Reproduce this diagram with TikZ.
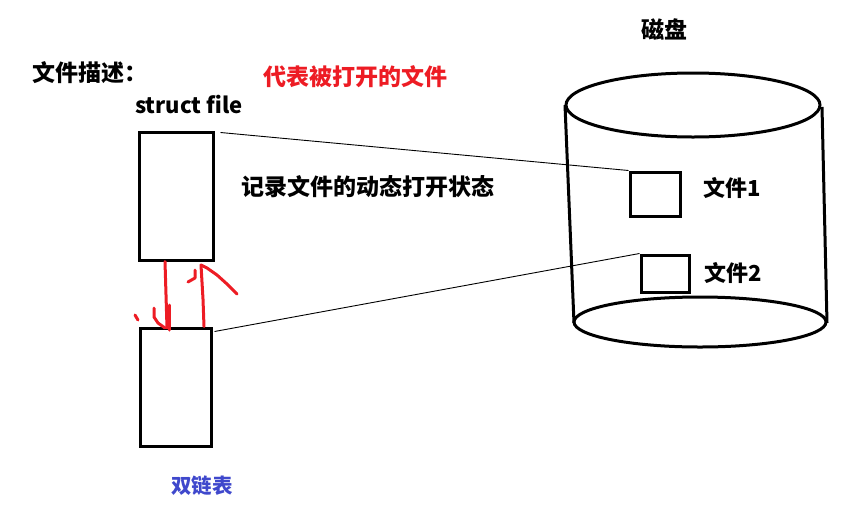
\documentclass[tikz,border=0pt]{standalone}
\usepackage{fontspec}
\setmainfont{Noto Sans CJK SC}
\usetikzlibrary{positioning, calc}
\definecolor{penred}{HTML}{ED1C24}
\definecolor{penblue}{HTML}{3F48CC}

\begin{document}
\begin{tikzpicture}[x=1pt, y=-1pt, font=\bfseries\fontsize{23}{27}\selectfont,
    box/.style={draw, line width=3pt, inner sep=0pt},
    link/.style={line width=0.9pt},
    pen/.style={draw=penred, line width=3pt, line cap=round, line join=round}]
    \useasboundingbox (0,0) rectangle (841,504);
    % labels
    \node (desc) at (90,73) {文件描述：};
    \node[font=\bfseries\fontsize{22}{26}\selectfont] (sname) at (189,105) {struct file};
    \node[text=penred] (meaning) at (355,77) {代表被打开的文件};
    \node (disk) at (664,30) {磁盘};
    \node (state) at (368,187) {记录文件的动态打开状态};
    \node[text=penblue, font=\bfseries\fontsize{20.5}{24}\selectfont] (dlist) at (202,486) {双链表};
    % struct file boxes
    \node[box, minimum width=74pt, minimum height=128pt] (upper) at (176,196) {};
    \node[box, minimum width=71pt, minimum height=118pt] (lower) at (175.5,387) {};
    % disk
    \draw[line width=3pt] (693,105) ellipse [x radius=127, y radius=32];
    \draw[line width=3pt] (700,322) ellipse [x radius=126, y radius=25];
    \draw[line width=3pt] (565,105) -- (574,323);
    \draw[line width=3pt] (822,107) -- (827,323);
    \node[box, minimum width=50pt, minimum height=44pt] (f1) at (655,194) {};
    \node[box, minimum width=48pt, minimum height=37pt] (f2) at (665,273.5) {};
    \node[font=\bfseries\fontsize{22}{26}\selectfont] (f1name) at (732,188) {文件1};
    \node[font=\bfseries\fontsize{22}{26}\selectfont] (f2name) at (733,273) {文件2};
    % pointers to the files
    \coordinate (ustart) at ($(upper.north east)+(6,2)$);
    \draw[link] (ustart) -- (f1.north west);
    \draw[link] (lower.north east) ++(2,5) -- (f2.north west);
    % red strokes
    \draw[pen] (upper.south -| 165,0) -- (167,328);
    \draw[pen] (154,308) -- (154,317) -- (158,323) -- (165,328);
    \draw[pen] (169,305) -- (169,330);
    \draw[pen] (lower.north -| 204,0) -- (203,299) -- (201,265);
    \draw[pen] (188,282) -- (195,278) -- (195,270);
    \draw[pen] (201,265) -- (207,268) -- (217,275) -- (227,284) -- (237,294);
    \draw[pen] (135,315) -- (138,320);
\end{tikzpicture}
\end{document}
